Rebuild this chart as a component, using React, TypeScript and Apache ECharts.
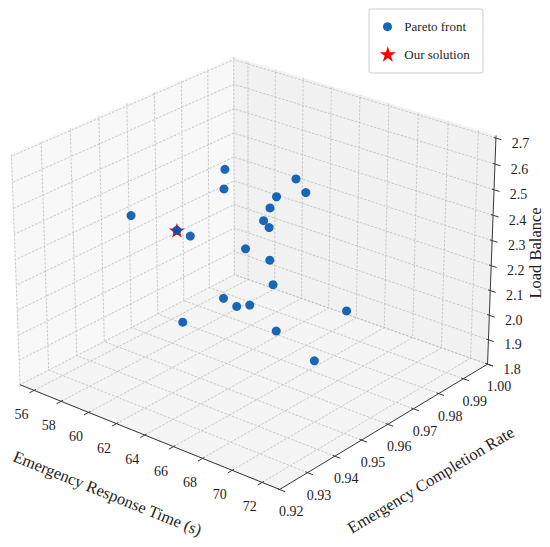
import React, { useEffect, useRef } from "react";
import * as echarts from "echarts";

// ---------------- data ----------------
const responseTime = [57.33, 58.79, 61.72, 61.7, 61.81, 62.83, 63.87, 62.03, 58.39, 59.26, 61.01, 61.85, 65.05, 66.76, 61.79, 63.49, 62.9, 66.09, 62.78, 65.51, 68.87];
const completionRate = [0.984, 0.976, 0.988, 0.992, 0.98, 0.972, 0.964, 0.976, 0.944, 0.956, 0.952, 0.968, 0.96, 0.952, 0.96, 0.956, 0.964, 0.984, 0.94, 0.96, 0.956];
const loadBalance = [2.372, 2.36, 2.393, 2.317, 2.364, 2.38, 2.391, 2.265, 2.412, 2.307, 2.339, 2.219, 2.28, 2.262, 2.062, 2.087, 2.035, 1.963, 2.101, 2.007, 1.983];

const ourTime = [59.26];
const ourRate = [0.956];
const ourLoad = [2.307];

const xTicks = [56, 58, 60, 62, 64, 66, 68, 70, 72];
const yTicks = [0.92, 0.93, 0.94, 0.95, 0.96, 0.97, 0.98, 0.99, 1.0];
const zTicks = [1.8, 1.9, 2.0, 2.1, 2.2, 2.3, 2.4, 2.5, 2.6, 2.7];

const X_LIM = [54.95, 73.15];
const Y_LIM = [0.92, 1.0];
const Z_LIM = [1.8, 2.71];

// ---------------- 3D view (matplotlib-like perspective) ----------------
const ELEV = 25;
const AZIM = -50.5;
const DIST = 10;
const ASPECT = [4, 4, 3];
const aspN = Math.hypot(ASPECT[0], ASPECT[1], ASPECT[2]);
const BOX = ASPECT.map((a) => (a / aspN) * 1.8294640721620434);
const el = (ELEV * Math.PI) / 180;
const az = (AZIM * Math.PI) / 180;
const Wv = [Math.cos(el) * Math.cos(az), Math.cos(el) * Math.sin(az), Math.sin(el)];
const Uv = [-Math.sin(az), Math.cos(az), 0];
const Vv = [-Math.sin(el) * Math.cos(az), -Math.sin(el) * Math.sin(az), Math.cos(el)];

function project(x: number, y: number, z: number): [number, number] {
  const q = [
    ((x - X_LIM[0]) / (X_LIM[1] - X_LIM[0]) - 0.5) * BOX[0],
    ((y - Y_LIM[0]) / (Y_LIM[1] - Y_LIM[0]) - 0.5) * BOX[1],
    ((z - Z_LIM[0]) / (Z_LIM[1] - Z_LIM[0]) - 0.5) * BOX[2],
  ];
  const dot = (a: number[]) => a[0] * q[0] + a[1] * q[1] + a[2] * q[2];
  const den = DIST - dot(Wv);
  return [dot(Uv) / den, dot(Vv) / den];
}

// screen mapping of the projected plane (hidden cartesian grid)
const CW = 550;
const CH = 547;
const CX = 255.4;
const CY = 261.5;
const SCALE = 2958.3;
const PX_MIN = -CX / SCALE;
const PX_MAX = (CW - CX) / SCALE;
const PY_MIN = (CY - CH) / SCALE;
const PY_MAX = CY / SCALE;

const BLUE = "#0057ae";
const RED = "#ff0000";
const FONT = '"Liberation Serif", "Times New Roman", serif';
const GRID_COLOR = "#bdbdbd";
const AXIS_COLOR = "#3a3a3a";
const TEXT_COLOR = "#1e1e1e";

function starPoints(cx: number, cy: number, r: number): number[][] {
  const pts: number[][] = [];
  for (let k = 0; k < 10; k++) {
    const ang = (-90 + k * 36) * (Math.PI / 180);
    const rr = k % 2 === 0 ? r : r * 0.382;
    pts.push([cx + rr * Math.cos(ang), cy + rr * Math.sin(ang)]);
  }
  return pts;
}

const STAR_PATH =
  "path://M0,-100L22.45,-30.9L95.11,-30.9L36.33,11.8L58.78,80.9L0,38.2L-58.78,80.9L-36.33,11.8L-95.11,-30.9L-22.45,-30.9Z";

function renderFrame(_params: any, api: any) {
  const P = (x: number, y: number, z: number) => api.coord(project(x, y, z));
  const [x0, x1] = X_LIM;
  const [y0, y1] = Y_LIM;
  const [z0, z1] = Z_LIM;
  const children: any[] = [];

  // panes
  const pane = (pts: number[][], fill: string) =>
    children.push({ type: "polygon", shape: { points: pts }, style: { fill, stroke: fill, lineWidth: 0.5 } });
  pane([P(x0, y0, z0), P(x0, y1, z0), P(x0, y1, z1), P(x0, y0, z1)], "#f8f8f8"); // left wall
  pane([P(x0, y1, z0), P(x1, y1, z0), P(x1, y1, z1), P(x0, y1, z1)], "#f1f1f1"); // right wall
  pane([P(x0, y0, z0), P(x1, y0, z0), P(x1, y1, z0), P(x0, y1, z0)], "#f4f4f4"); // floor

  const gridStyle = { stroke: GRID_COLOR, lineWidth: 0.8, lineDash: [2.5, 1.5], fill: null };
  xTicks.forEach((x) =>
    children.push({ type: "polyline", shape: { points: [P(x, y0, z0), P(x, y1, z0), P(x, y1, z1)] }, style: gridStyle })
  );
  yTicks.forEach((y) =>
    children.push({ type: "polyline", shape: { points: [P(x1, y, z0), P(x0, y, z0), P(x0, y, z1)] }, style: gridStyle })
  );
  zTicks.forEach((z) =>
    children.push({ type: "polyline", shape: { points: [P(x1, y1, z), P(x0, y1, z), P(x0, y0, z)] }, style: gridStyle })
  );

  // axis lines
  const axLine = (a: number[], b: number[]) =>
    children.push({ type: "line", shape: { x1: a[0], y1: a[1], x2: b[0], y2: b[1] }, style: { stroke: AXIS_COLOR, lineWidth: 1 } });
  axLine(P(x0, y0, z0), P(x1, y0, z0));
  axLine(P(x1, y0, z0), P(x1, y1, z0));
  axLine(P(x1, y1, z0), P(x1, y1, z1));

  const xr = x1 - x0;
  const yr = y1 - y0;
  const txt = (text: string, p: number[], dx: number, dy: number, size: number, rotation = 0) =>
    children.push({
      type: "text",
      x: p[0] + dx,
      y: p[1] + dy,
      rotation,
      style: { text, fill: TEXT_COLOR, fontSize: size, fontFamily: FONT, align: "center", verticalAlign: "middle" },
    });

  // x ticks + labels
  xTicks.forEach((x) => {
    axLine(P(x, y0 + 0.008 * yr, z0), P(x, y0 - 0.02 * yr, z0));
    txt(String(x), P(x, y0, z0), -12.5, 24.5, 14);
  });
  // y ticks + labels
  yTicks.forEach((y) => {
    axLine(P(x1 - 0.008 * xr, y, z0), P(x1 + 0.02 * xr, y, z0));
    txt(y.toFixed(2), P(x1, y, z0), 11.5, 22.5, 14);
  });
  // z ticks + labels
  zTicks.forEach((z) => {
    axLine(P(x1 - 0.008 * xr, y1, z), P(x1 + 0.02 * xr, y1, z));
    txt(z.toFixed(1), P(x1, y1, z), 24.5, 5, 14);
  });

  // axis titles
  const ax0 = P(x0, y0, z0);
  const ax1 = P(x1, y0, z0);
  const xRot = -Math.atan2(ax1[1] - ax0[1], ax1[0] - ax0[0]);
  txt("Emergency Response Time (s)", P((x0 + x1) / 2, y0, z0), -38, 58, 16.5, xRot);
  const ay0 = P(x1, y0, z0);
  const ay1 = P(x1, y1, z0);
  const yRot = -Math.atan2(ay1[1] - ay0[1], ay1[0] - ay0[0]);
  txt("Emergency Completion Rate", P(x1, (y0 + y1) / 2, z0), 43, 55.7, 16.5, yRot);
  txt("Load Balance", P(x1, y1, (z0 + z1) / 2), 43.8, 1.1, 16.5, Math.PI / 2);

  return { type: "group", children };
}

export default function App() {
  const ref = useRef<HTMLDivElement>(null);
  useEffect(() => {
    if (!ref.current) return;
    const chart = echarts.init(ref.current, undefined, { renderer: "svg" });
    const pareto = responseTime.map((x, i) => project(x, completionRate[i], loadBalance[i]));
    const ours = ourTime.map((x, i) => project(x, ourRate[i], ourLoad[i]));
    chart.setOption({
      animation: false,
      backgroundColor: "#ffffff",
      grid: { left: 0, top: 0, width: CW, height: CH, show: false },
      xAxis: { type: "value", min: PX_MIN, max: PX_MAX, show: false },
      yAxis: { type: "value", min: PY_MIN, max: PY_MAX, show: false },
      series: [
        { type: "custom", name: "frame", renderItem: renderFrame, data: [0], silent: true, clip: false, z: 1 },
        {
          type: "scatter",
          name: "Our solution",
          data: ours,
          symbol: STAR_PATH,
          symbolKeepAspect: true,
          symbolSize: [16, 15.2],
          itemStyle: { color: RED, opacity: 1 },
          z: 2,
        },
        {
          type: "scatter",
          name: "Pareto front",
          data: pareto,
          symbolSize: 9,
          itemStyle: { color: BLUE, opacity: 0.9 },
          z: 3,
        },
      ],
      graphic: [
        { type: "rect", shape: { x: 369, y: 9, width: 114, height: 64, r: 2 }, style: { fill: "#fff", stroke: "#cccccc", lineWidth: 1 }, z: 10 },
        { type: "circle", shape: { cx: 387.5, cy: 26.7, r: 4.5 }, style: { fill: BLUE, opacity: 0.9 }, z: 11 },
        { type: "polygon", shape: { points: starPoints(387.8, 54.8, 8.6) }, style: { fill: RED }, z: 11 },
        { type: "text", x: 404.3, y: 26.7, style: { text: "Pareto front", fontSize: 13, fontFamily: FONT, fill: TEXT_COLOR, verticalAlign: "middle" }, z: 11 },
        { type: "text", x: 404.3, y: 54, style: { text: "Our solution", fontSize: 13, fontFamily: FONT, fill: TEXT_COLOR, verticalAlign: "middle" }, z: 11 },
      ],
    });
    return () => chart.dispose();
  }, []);
  return <div ref={ref} style={{ position: "fixed", left: 0, top: 0, width: CW, height: CH, background: "#fff" }} />;
}
